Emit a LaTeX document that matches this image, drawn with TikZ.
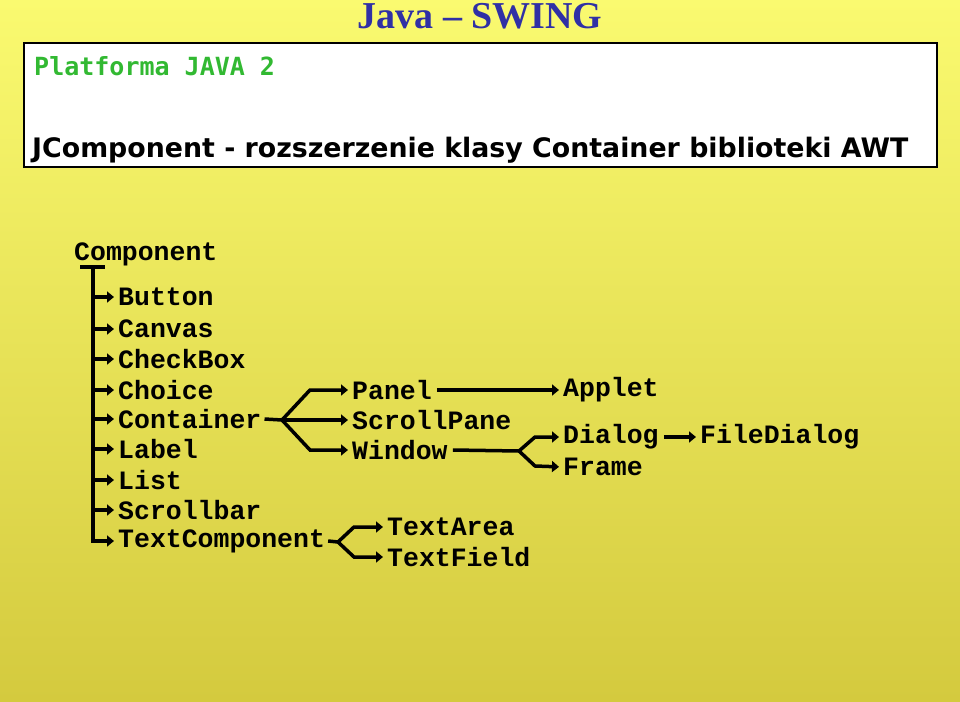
\documentclass[tikz,border=0pt]{standalone}
\usepackage{fontspec}
\setmainfont{Liberation Serif}
\newfontfamily\cls{Liberation Mono}
\newfontfamily\dmono{DejaVu Sans Mono}
\newfontfamily\dsans{DejaVu Sans}
\usetikzlibrary{arrows.meta}
\definecolor{bgtop}{RGB}{250,250,112}
\definecolor{bgbot}{RGB}{212,202,62}
\definecolor{ttl}{RGB}{48,48,165}
\definecolor{grn}{RGB}{50,185,50}
\tikzset{
  cl/.style={anchor=west,inner sep=0pt,font=\cls\bfseries\fontsize{26.5}{26.5}\selectfont},
  br/.style={line width=3.5pt},
  ar/.style={line width=3.5pt,shorten >=4pt,-{Triangle[length=7pt,width=11pt]}},
}
\begin{document}
\begin{tikzpicture}[x=1pt,y=-1pt]
\shade[top color=bgtop,bottom color=bgbot] (0,0) rectangle (960,701);
\useasboundingbox (0,0) rectangle (960,701);
\node[inner sep=0pt,font=\bfseries\fontsize{38}{38}\selectfont,text=ttl] (title) at (480,16) {Java – SWING};
\draw[line width=2.5pt,fill=white] (24,43) rectangle (937,167);
\node[anchor=west,inner sep=0pt,font=\dmono\bfseries\fontsize{25}{25}\selectfont,text=grn] (plat) at (34,66) {Platforma JAVA 2};
\node[anchor=west,inner sep=0pt,font=\dsans\bfseries\fontsize{26.8}{26.8}\selectfont] (jc) at (32,150) {JComponent - rozszerzenie klasy Container biblioteki AWT};

\node[cl] (comp) at (74,254) {Component};
\coordinate (top) at (93,267);
\draw[br] (80,267) -- (105,267);
\draw[br] (top) -- (93,541);
\foreach \n/\t/\y in {but/Button/297,can/Canvas/329,chk/CheckBox/359,cho/Choice/390,con/Container/419,lab/Label/449,lst/List/480,scr/Scrollbar/510,txc/TextComponent/541}{
  \node[cl] (\n) at (118,\y) {\t};
  \draw[ar] (91.3,\y) -- (\n.west);
}
\node[cl] (pan) at (352,390) {Panel};
\node[cl] (scp) at (352,420) {ScrollPane};
\node[cl] (win) at (352,450) {Window};
\node[cl] (app) at (563,390) {Applet};
\node[cl] (dia) at (563,437) {Dialog};
\node[cl] (fra) at (563,467) {Frame};
\node[cl] (fdl) at (700,437) {FileDialog};
\node[cl] (tar) at (387,527) {TextArea};
\node[cl] (tfd) at (387,557) {TextField};
\coordinate (f1) at (282,420);
\draw[br] ([xshift=3pt]con.east) -- (f1);
\draw[ar] (f1) -- (310,390) -- (pan.west);
\draw[ar] (f1) -- (scp.west);
\draw[ar] (f1) -- (310,450) -- (win.west);
\draw[ar] ([xshift=5pt]pan.east) -- (app.west);
\coordinate (f2) at (519,451);
\draw[br] ([xshift=5pt]win.east) -- (f2);
\draw[ar] (f2) -- (535,437) -- (dia.west);
\draw[ar] (f2) -- (535,466) -- (fra.west);
\draw[ar] ([xshift=5pt]dia.east) -- (fdl.west);
\coordinate (f3) at (338,542);
\draw[br] ([xshift=3pt]txc.east) -- (f3);
\draw[ar] (f3) -- (354,527) -- (tar.west);
\draw[ar] (f3) -- (354,557) -- (tfd.west);
\end{tikzpicture}
\end{document}
